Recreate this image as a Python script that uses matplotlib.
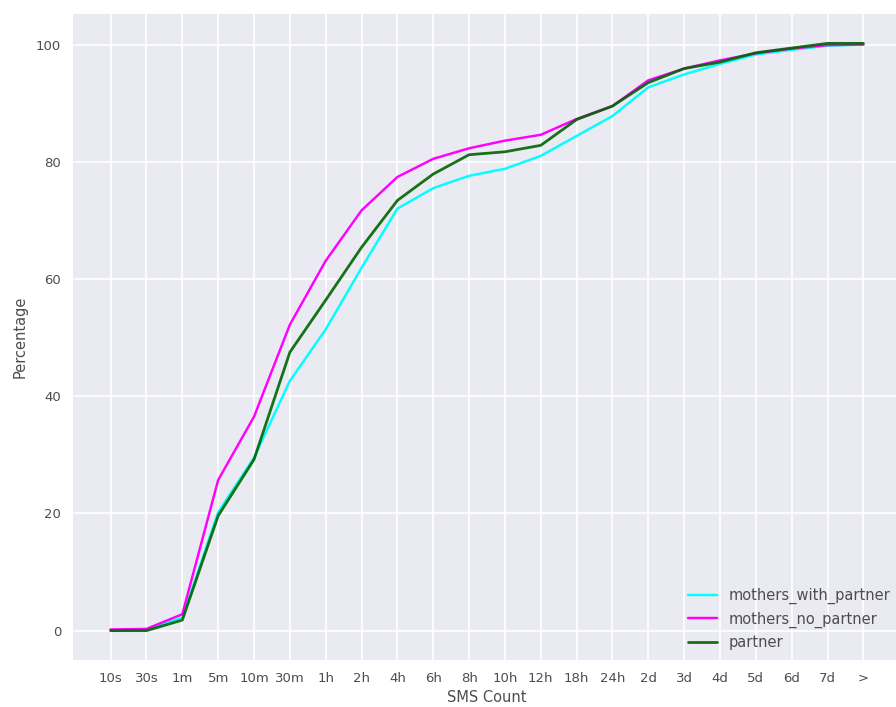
import matplotlib
matplotlib.use("Agg")
import matplotlib.pyplot as plt
import numpy as np

plt.style.use("seaborn-v0_8-darkgrid")
plt.rcParams["font.family"] = ["DejaVu Sans"]
plt.rcParams["text.color"] = "0.3"
plt.rcParams["axes.labelcolor"] = "0.3"
plt.rcParams["xtick.color"] = "0.3"
plt.rcParams["ytick.color"] = "0.3"
plt.rcParams["grid.linewidth"] = 1.2

labels = ["10s", "30s", "1m", "5m", "10m", "30m", "1h", "2h", "4h", "6h", "8h",
          "10h", "12h", "18h", "24h", "2d", "3d", "4d", "5d", "6d", "7d", ">"]

mothers_with_partner = [0.0, 0.2, 2.2, 20.2, 29.5, 42.6, 51.4, 61.9, 72.0, 75.5, 77.6,
                        78.8, 81.0, 84.4, 87.8, 92.7, 94.9, 96.7, 98.3, 99.1, 99.8, 100.0]
mothers_no_partner = [0.2, 0.3, 2.8, 25.7, 36.5, 52.2, 63.1, 71.7, 77.4, 80.5, 82.3,
                      83.6, 84.6, 87.3, 89.5, 93.9, 95.9, 97.3, 98.5, 99.3, 99.9, 100.0]
partner = [0.0, 0.0, 1.8, 19.6, 29.2, 47.5, 56.4, 65.4, 73.4, 77.9, 81.2,
           81.7, 82.8, 87.2, 89.5, 93.5, 95.9, 97.0, 98.6, 99.4, 100.2, 100.2]

fig = plt.figure(figsize=(8.96, 7.07), dpi=100)
ax = fig.add_axes([73 / 896, 1 - 660 / 707, 828 / 896, 646 / 707])

x = np.arange(len(labels))
ax.plot(x, mothers_with_partner, color="cyan", lw=1.75, label="mothers_with_partner")
ax.plot(x, mothers_no_partner, color="magenta", lw=1.75, label="mothers_no_partner")
ax.plot(x, partner, color="darkgreen", lw=2.0, alpha=0.9, label="partner")

ax.set_xticks(x)
ax.set_xticklabels(labels)
ax.tick_params(labelsize=9.5, pad=8.5)
ax.set_xlabel("SMS Count", fontsize=10.5, labelpad=4)
ax.set_ylabel("Percentage", fontsize=10.5, labelpad=6)
ax.legend(loc="lower right", fontsize=10.5, borderaxespad=0.3)

fig.savefig("out.png", dpi=100)
